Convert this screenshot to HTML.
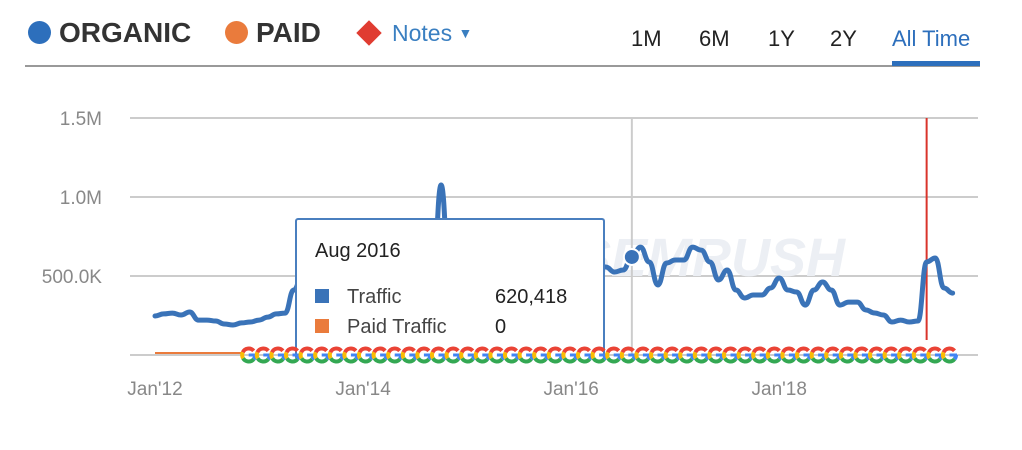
<!DOCTYPE html>
<html><head><meta charset="utf-8"><style>
body{margin:0;width:1022px;height:450px;background:#fff;font-family:"Liberation Sans",sans-serif;overflow:hidden;position:relative}
.a{position:absolute;white-space:nowrap}
</style></head><body>
<div class="a" style="left:28px;top:17px;font-size:28px;font-weight:bold;color:#333"><span style="display:inline-block;width:23px;height:23px;border-radius:50%;background:#2d6fbc;vertical-align:-2px;margin-right:8px"></span>ORGANIC</div>
<div class="a" style="left:225px;top:17px;font-size:28px;font-weight:bold;color:#333"><span style="display:inline-block;width:23px;height:23px;border-radius:50%;background:#ea7b3c;vertical-align:-2px;margin-right:8px"></span>PAID</div>
<div class="a" style="left:356px;top:20px;font-size:23px;color:#3a7fc1"><span style="display:inline-block;width:18px;height:18px;background:#e03c31;transform:rotate(45deg);vertical-align:-1px;margin:0 14px 0 4px"></span>Notes <span style="font-size:14px;vertical-align:3px">▼</span></div>
<div class="a" style="left:631px;top:26px;font-size:22px;color:#222">1M</div>
<div class="a" style="left:699px;top:26px;font-size:22px;color:#222">6M</div>
<div class="a" style="left:768px;top:26px;font-size:22px;color:#222">1Y</div>
<div class="a" style="left:830px;top:26px;font-size:22px;color:#222">2Y</div>
<div class="a" style="left:892px;top:26px;font-size:22px;color:#2d6fbc">All Time</div>
<div class="a" style="left:25px;top:65px;width:955px;height:2px;background:#999"></div>
<div class="a" style="left:892px;top:61px;width:88px;height:5px;background:#2d6fbc"></div>
<svg class="a" style="left:0;top:0" width="1022" height="450" id="chart"></svg>
<script>
const yTicks=[0,500000,1000000,1500000];
const yTickLabels=["","500.0K","1.0M","1.5M"];
const xTickMonths=[0,24,48,72];
const xTickLabels=["Jan'12","Jan'14","Jan'16","Jan'18"];
const organic=[247000,260000,265000,253000,272000,221000,221000,215000,196000,190000,203000,209000,221000,240000,260000,265000,411000,506000,
420000,400000,380000,410000,430000,400000,390000,420000,440000,410000,400000,430000,420000,410000,420000,1076000,450000,
460000,480000,470000,450000,490000,500000,480000,470000,500000,510000,490000,480000,500000,520000,540000,560000,560000,557000,525000,538000,620418,683000,589000,443000,582000,601000,601000,683000,664000,589000,475000,538000,411000,361000,380000,380000,424000,487000,411000,399000,316000,411000,462000,411000,316000,335000,335000,285000,266000,253000,209000,221000,209000,215000,589000,614000,424000,392000];
const paidEndMonth=10;
const iconStart=10;
const ns="http://www.w3.org/2000/svg";
const svg=document.getElementById('chart');
const X=m=>155+m*8.67, Y=v=>355-v/500000*79;
function mk(t,a){const e=document.createElementNS(ns,t);for(const k in a)e.setAttribute(k,a[k]);svg.appendChild(e);return e;}
yTicks.forEach((t,i)=>{const g=mk('line',{x1:130,x2:978,y1:Y(t),y2:Y(t),stroke:'#ccc','stroke-width':2});

if(yTickLabels[i]){const tx=mk('text',{x:102,y:Y(t)+7,'text-anchor':'end','font-size':19,fill:'#888','font-family':'Liberation Sans'});tx.textContent=yTickLabels[i];
}});
xTickMonths.forEach((m,i)=>{const tx=mk('text',{x:X(m),y:395,'text-anchor':'middle','font-size':19,fill:'#888','font-family':'Liberation Sans'});tx.textContent=xTickLabels[i];
});
const wm=mk('text',{x:575,y:276,'font-size':54,'font-weight':'bold','font-style':'italic',fill:'#eceff4','font-family':'Liberation Sans'});wm.textContent='SEMRUSH';

const hv=mk('line',{x1:X(55),x2:X(55),y1:118,y2:355,stroke:'#ccc','stroke-width':2});

const rl=mk('line',{x1:X(89),x2:X(89),y1:118,y2:340,stroke:'#d9342b','stroke-width':2});

const pl=mk('line',{x1:X(0),x2:X(paidEndMonth),y1:Y(0)-2,y2:Y(0)-2,stroke:'#ea7b3c','stroke-width':2});

let d='';organic.forEach((v,i)=>{const x=X(i),y=Y(v);if(i==0)d='M'+x+' '+y;else{const px=X(i-1),py=Y(organic[i-1]);d+=' C'+(px+4)+' '+py+' '+(x-4)+' '+y+' '+x+' '+y;}});
const ln=mk('path',{d:d,fill:'none',stroke:'#3a73b8','stroke-width':5,'stroke-linejoin':'round','stroke-linecap':'round'});

const dot=mk('circle',{cx:X(55),cy:Y(organic[55]),r:8,fill:'#3a73b8',stroke:'#fff','stroke-width':2});

</script>
<div class="a" style="left:295px;top:218px;width:306px;height:140px;background:#fff;border:2px solid #4a7fbf;border-radius:3px;border-bottom:none">
<div class="a" style="left:18px;top:20px;font-size:20px;color:#222">Aug 2016</div>
<div class="a" style="left:18px;top:66px;font-size:20px;color:#444"><span style="display:inline-block;width:14px;height:14px;background:#3a73b8;margin-right:18px"></span>Traffic</div>
<div class="a" style="left:198px;top:66px;font-size:20px;color:#222">620,418</div>
<div class="a" style="left:18px;top:96px;font-size:20px;color:#444"><span style="display:inline-block;width:14px;height:14px;background:#ea7b3c;margin-right:18px"></span>Paid Traffic</div>
<div class="a" style="left:198px;top:96px;font-size:20px;color:#222">0</div>
</div>
<svg class="a" style="left:0;top:0" width="1022" height="450" id="ov"></svg>
<script>
const ov=document.getElementById('ov');
const segs=[[0,40,'#4285f4'],[40,150,'#34a853'],[150,205,'#fbbc05'],[205,320,'#ea4335']];
for(let x=X(iconStart)+7;x<=X(organic.length-1)+3;x+=14.6){const cx=x,cy=355,r=6.5;
const g=document.createElementNS(ns,'g');ov.appendChild(g);


segs.forEach(s=>{const a0=s[0]*Math.PI/180,a1=s[1]*Math.PI/180;
const p=document.createElementNS(ns,'path');
p.setAttribute('d','M'+(cx+r*Math.cos(a0))+' '+(cy+r*Math.sin(a0))+' A'+r+' '+r+' 0 0 1 '+(cx+r*Math.cos(a1))+' '+(cy+r*Math.sin(a1)));
p.setAttribute('stroke',s[2]);p.setAttribute('stroke-width',4);p.setAttribute('fill','none');g.appendChild(p);});
const bar=document.createElementNS(ns,'line');bar.setAttribute('x1',cx);bar.setAttribute('x2',cx+r+1);bar.setAttribute('y1',cy);bar.setAttribute('y2',cy);bar.setAttribute('stroke','#4285f4');bar.setAttribute('stroke-width',3);g.appendChild(bar);}
</script>
</body></html>
